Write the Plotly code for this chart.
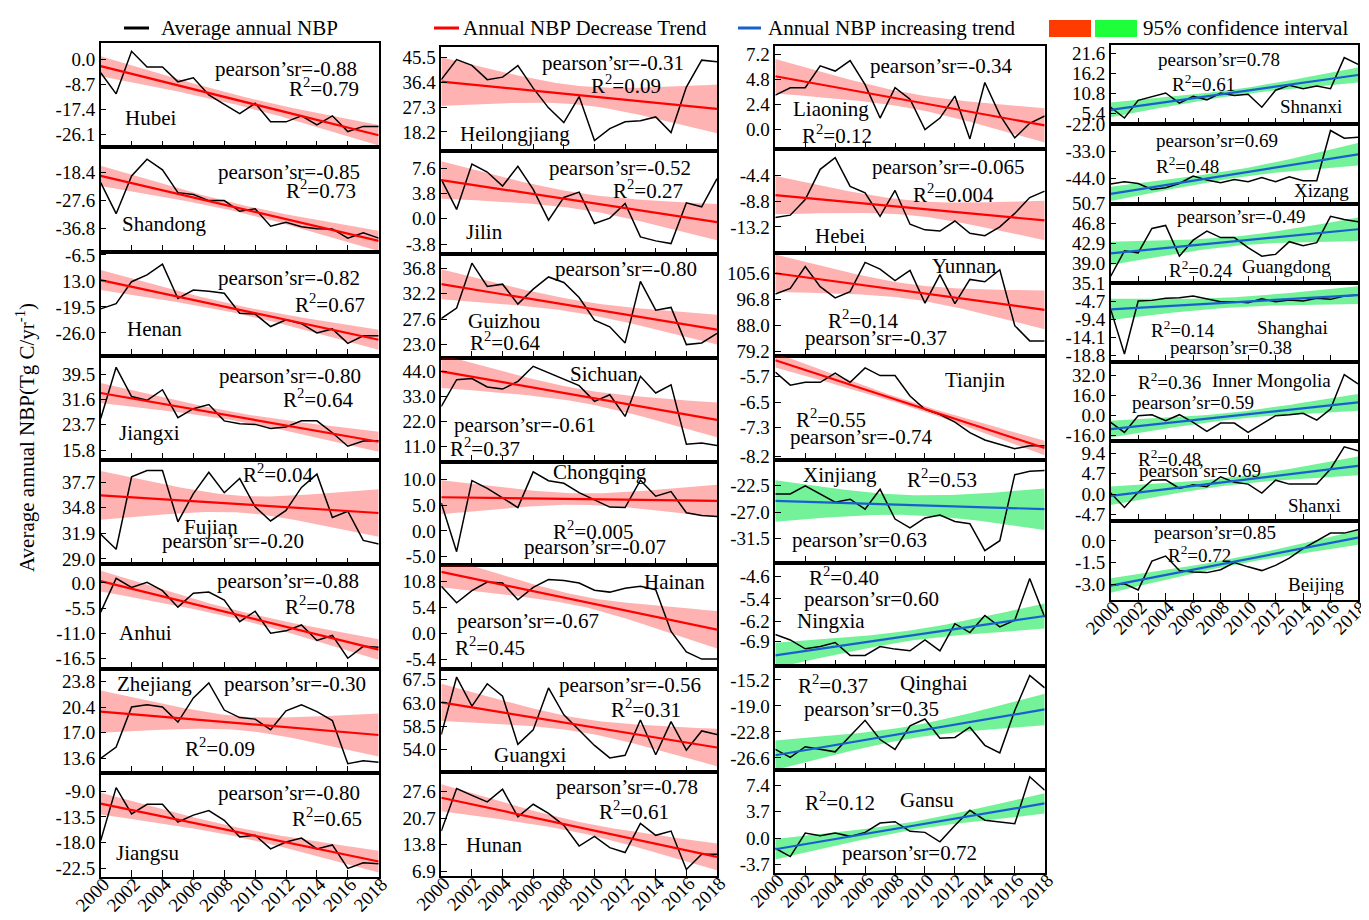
import numpy as np
import plotly.graph_objects as go

W, H = 1369, 920
years = list(range(2000, 2019))
year_ticks = list(range(2000, 2019, 2))

# ---------------- data (Tg C/yr) ----------------
hubei = [-4.6, -12.0, 2.9, -2.6, -2.6, -7.8, -6.4, -12.4, -15.7, -18.9, -15.3, -21.8, -21.8, -19.7, -22.9, -19.7, -25.2, -23.4, -23.4]
shandong = [-21.7, -31.9, -19.5, -14.0, -17.5, -25.0, -25.6, -27.6, -27.6, -31.1, -30.3, -36.0, -34.7, -36.2, -36.8, -36.9, -39.9, -38.2, -39.9]
henan = [-20.0, -18.7, -13.2, -11.5, -8.8, -17.4, -15.3, -15.6, -16.1, -21.1, -21.3, -24.4, -22.7, -23.7, -26.0, -25.0, -28.6, -26.7, -26.7]
jiangxi = [25.6, 41.6, 32.5, 31.3, 34.6, 25.9, 28.7, 30.0, 24.9, 24.0, 23.8, 22.5, 23.0, 24.9, 24.9, 21.2, 17.0, 18.6, 18.7]
fujian = [31.8, 30.1, 38.3, 39.0, 39.0, 33.2, 36.4, 38.8, 36.5, 38.1, 34.9, 33.3, 34.5, 37.1, 38.6, 33.7, 34.4, 31.1, 30.7]
anhui = [-6.4, 1.0, -1.0, 0.15, -1.7, -5.3, -2.25, -2.0, -3.75, -8.5, -6.2, -11.0, -10.5, -9.2, -12.6, -11.5, -16.5, -13.9, -14.1]
zhejiang = [13.6, 15.1, 20.4, 20.7, 20.4, 18.4, 21.6, 23.6, 20.0, 19.0, 18.8, 17.4, 19.9, 20.7, 19.8, 18.6, 12.9, 13.3, 13.1]
jiangsu = [-17.65, -8.4, -13.0, -11.3, -11.3, -14.4, -13.2, -12.4, -14.1, -17.0, -16.7, -19.1, -17.9, -17.2, -19.1, -18.4, -22.5, -21.5, -21.7]
heilongjiang = [37.3, 44.6, 42.5, 37.3, 38.2, 42.4, 34.2, 27.0, 21.6, 31.1, 15.1, 19.4, 21.9, 22.3, 23.7, 18.0, 34.6, 44.4, 43.8]
jilin = [5.9, 1.4, 8.2, 7.0, 4.9, 7.85, 4.4, -0.2, 3.2, 4.0, -0.7, 0.1, 2.3, -2.7, -3.3, -3.7, 2.4, 1.8, 6.0]
guizhou = [27.7, 29.6, 37.7, 33.5, 33.9, 30.3, 33.0, 35.2, 34.2, 31.5, 27.4, 26.2, 23.3, 34.4, 29.2, 29.7, 23.0, 23.3, 25.0]
sichuan = [28.6, 40.3, 40.8, 37.1, 36.2, 39.6, 46.2, 43.3, 40.6, 37.7, 30.8, 33.7, 24.2, 41.8, 34.5, 38.1, 12.0, 12.5, 11.4]
chongqing = [5.4, -4.0, 9.7, 8.2, 6.4, 4.5, 11.4, 9.7, 9.2, 7.4, 6.0, 4.6, 4.5, 9.8, 6.7, 7.6, 3.5, 3.0, 2.8]
hainan = [9.7, 6.3, 8.8, 10.6, 10.4, 6.9, 9.5, 11.1, 10.9, 10.4, 8.9, 8.5, 9.3, 9.7, 9.0, 0.35, -3.9, -5.4, -5.4]
guangxi = [56.9, 68.0, 62.4, 66.7, 64.3, 55.0, 57.8, 65.9, 60.7, 57.8, 54.8, 52.4, 52.9, 59.7, 53.0, 59.4, 53.9, 57.6, 56.9]
hunan = [17.3, 28.4, 26.6, 24.9, 28.2, 21.0, 24.3, 21.9, 18.8, 13.4, 15.9, 13.0, 11.7, 19.3, 16.2, 17.3, 7.3, 11.3, 11.3]
liaoning = [3.3, 4.0, 4.0, 6.1, 5.6, 6.6, 4.3, 1.1, 4.0, 2.9, 0.0, 1.1, 3.2, -0.9, 4.5, 1.4, -0.8, 0.6, 1.3]
hebei = [-11.6, -11.2, -8.55, -3.4, -1.4, -6.3, -7.4, -11.4, -7.0, -12.75, -13.7, -13.9, -12.2, -14.3, -14.7, -13.2, -10.9, -8.2, -7.1]
yunnan = [98.7, 100.6, 108.1, 101.2, 97.4, 99.5, 109.5, 107.2, 103.3, 106.8, 95.6, 105.3, 95.4, 103.7, 102.9, 107.0, 87.9, 82.7, 82.7]
tianjin = [-5.56, -5.97, -5.88, -5.88, -5.59, -5.88, -5.43, -5.67, -5.67, -6.31, -6.73, -6.89, -7.13, -7.46, -7.69, -7.82, -7.96, -7.87, -7.87]
xinjiang = [-23.9, -23.9, -22.5, -23.9, -25.3, -24.8, -26.5, -23.1, -28.2, -29.7, -28.0, -27.5, -28.6, -29.0, -33.6, -31.9, -20.6, -20.0, -19.9]
ningxia = [-6.65, -6.84, -7.15, -7.07, -6.93, -7.38, -7.38, -7.07, -7.16, -7.22, -6.84, -7.22, -6.27, -6.58, -5.98, -6.38, -6.15, -4.69, -6.04]
qinghai = [-25.35, -26.5, -24.95, -25.35, -25.7, -23.4, -21.1, -23.9, -25.35, -21.9, -20.9, -23.7, -23.6, -22.1, -24.75, -25.85, -19.65, -14.55, -16.35]
gansu = [-1.43, -2.6, 0.7, 0.33, 0.7, 0.24, 0.8, 2.1, 2.3, 0.95, 0.8, -0.52, 1.76, 3.9, 2.5, 2.24, 2.0, 8.6, 6.7]
shnanxi = [7.0, 4.1, 8.85, 9.75, 10.85, 8.1, 9.95, 9.0, 10.85, 10.2, 10.5, 7.0, 11.6, 12.95, 12.0, 12.7, 12.0, 20.4, 18.6]
xizang = [-46.1, -45.2, -45.9, -48.3, -47.6, -45.9, -42.9, -44.5, -45.6, -44.3, -45.2, -43.5, -45.2, -43.2, -44.8, -44.8, -24.5, -27.6, -27.2]
guangdong = [36.4, 41.4, 41.0, 45.8, 46.4, 40.35, 43.5, 45.3, 44.0, 44.0, 42.05, 40.35, 40.7, 43.2, 42.4, 43.0, 48.2, 47.55, 47.1]
shanghai = [-6.85, -18.4, -4.7, -4.53, -4.0, -3.85, -3.4, -4.1, -4.87, -4.87, -5.13, -4.1, -4.87, -4.44, -4.7, -4.0, -4.27, -3.4, -3.16]
inner_mongolia = [-5.3, -13.3, 0.0, 0.8, -4.0, 0.8, -5.3, -12.5, -5.9, -5.9, -13.3, -6.7, 0.0, 0.8, 1.9, -3.5, 5.3, 32.8, 25.3]
shanxi = [0.23, -3.1, 0.4, 3.2, 3.3, 1.3, 2.15, 1.7, 4.0, 2.7, 2.3, 0.23, 3.2, 2.3, 2.3, 2.3, 5.8, 10.9, 10.0]
beijing = [-3.09, -2.97, -3.4, -1.4, -1.05, -2.06, -2.15, -2.2, -2.0, -1.5, -1.8, -2.06, -1.7, -1.2, -0.54, 0.0, 0.54, 0.54, 0.77]

regions = ["Hubei", "Shandong", "Henan", "Jiangxi", "Fujian", "Anhui", "Zhejiang", "Jiangsu",
           "Heilongjiang", "Jilin", "Guizhou", "Sichuan", "Chongqing", "Hainan", "Guangxi", "Hunan",
           "Liaoning", "Hebei", "Yunnan", "Tianjin", "Xinjiang", "Ningxia", "Qinghai", "Gansu",
           "Shnanxi", "Xizang", "Guangdong", "Shanghai", "Inner Mongolia", "Shanxi", "Beijing"]
series = [hubei, shandong, henan, jiangxi, fujian, anhui, zhejiang, jiangsu,
          heilongjiang, jilin, guizhou, sichuan, chongqing, hainan, guangxi, hunan,
          liaoning, hebei, yunnan, tianjin, xinjiang, ningxia, qinghai, gansu,
          shnanxi, xizang, guangdong, shanghai, inner_mongolia, shanxi, beijing]

# fitted trend at 2000 and 2018, CI half-widths at 2000 / 2009 / 2018
trend_start = [-2.3, -19.5, -12.8, 33.6, 36.2, 0.4, 19.8, -11.2,
               36.6, 5.8, 33.9, 44.0, 6.5, 12.7, 63.1, 26.0,
               5.1, -7.8, 105.8, -5.19, -25.1, -7.38, -26.2, -1.57,
               6.3, -50.1, 40.9, -6.85, -10.7, -0.4, -3.1]
trend_end = [-26.5, -40.8, -27.7, 18.4, 34.2, -14.6, 16.7, -21.3,
             26.6, -0.5, 25.7, 22.7, 5.8, 0.7, 54.4, 10.6,
             0.4, -12.1, 93.3, -7.94, -26.5, -6.0, -19.5, 4.86,
             15.7, -34.1, 45.65, -3.16, 10.7, 6.5, 0.23]
ci_start = [3.5, 3.3, 2.5, 3.1, 2.76, 2.25, 2.8, 1.9,
            8.9, 2.8, 2.7, 7.3, 3.3, 3.2, 3.6, 3.5,
            1.65, 3.25, 6.4, 0.23, 3.55, 0.44, 2.15, 1.43,
            2.0, 2.9, 2.3, 2.75, 6.7, 2.15, 0.5]
ci_mid = [1.7, 1.3, 1.0, 1.3, 0.95, 0.9, 0.9, 0.8,
          3.4, 1.2, 1.1, 2.9, 1.1, 1.05, 1.3, 1.4,
          0.7, 1.25, 2.5, 0.085, 1.7, 0.18, 0.9, 0.57,
          0.8, 1.6, 0.9, 1.3, 2.7, 0.85, 0.23]
ci_end = [3.6, 3.3, 2.5, 3.1, 2.7, 2.25, 2.85, 1.9,
          8.9, 2.7, 2.7, 7.6, 3.1, 3.9, 3.6, 3.5,
          1.65, 3.35, 6.6, 0.23, 3.55, 0.44, 2.3, 1.43,
          2.0, 4.5, 2.3, 2.3, 6.7, 2.15, 0.5]
increasing = [False] * 20 + [True] * 11
pearson_r = ["-0.88", "-0.85", "-0.82", "-0.80", "-0.20", "-0.88", "-0.30", "-0.80",
             "-0.31", "-0.52", "-0.80", "-0.61", "-0.07", "-0.67", "-0.56", "-0.78",
             "-0.34", "-0.065", "-0.37", "-0.74", "0.63", "0.60", "0.35", "0.72",
             "0.78", "0.69", "-0.49", "0.38", "0.59", "0.69", "0.85"]
r_squared = ["0.79", "0.73", "0.67", "0.64", "0.04", "0.78", "0.09", "0.65",
             "0.09", "0.27", "0.64", "0.37", "0.005", "0.45", "0.31", "0.61",
             "0.12", "0.004", "0.14", "0.55", "0.53", "0.40", "0.37", "0.12",
             "0.61", "0.48", "0.24", "0.14", "0.36", "0.48", "0.72"]

# y-axis ticks
y_ticks = [[0.0, -8.7, -17.4, -26.1], [-18.4, -27.6, -36.8], [-6.5, -13.0, -19.5, -26.0],
           [39.5, 31.6, 23.7, 15.8], [37.7, 34.8, 31.9, 29.0], [0.0, -5.5, -11.0, -16.5],
           [23.8, 20.4, 17.0, 13.6], [-9.0, -13.5, -18.0, -22.5],
           [45.5, 36.4, 27.3, 18.2], [7.6, 3.8, 0.0, -3.8], [36.8, 32.2, 27.6, 23.0],
           [44.0, 33.0, 22.0, 11.0], [10.0, 5.0, 0.0, -5.0], [10.8, 5.4, 0.0, -5.4],
           [67.5, 63.0, 58.5, 54.0], [27.6, 20.7, 13.8, 6.9],
           [7.2, 4.8, 2.4, 0.0], [-4.4, -8.8, -13.2], [105.6, 96.8, 88.0, 79.2],
           [-5.7, -6.5, -7.3, -8.2], [-22.5, -27.0, -31.5], [-4.6, -5.4, -6.2, -6.9],
           [-15.2, -19.0, -22.8, -26.6], [7.4, 3.7, 0.0, -3.7],
           [21.6, 16.2, 10.8, 5.4], [-22.0, -33.0, -44.0], [50.7, 46.8, 42.9, 39.0, 35.1],
           [-4.7, -9.4, -14.1, -18.8], [32.0, 16.0, 0.0, -16.0], [9.4, 4.7, 0.0, -4.7],
           [0.0, -1.5, -3.0]]
y_tick_text_override = {2: ["-6.5", "13.0", "-19.5", "-26.0"]}

# ---------------- layout helpers ----------------
y_ranges = [[-30.7, 5.8], [-44.3, -10.1], [-31.7, -5.66], [12.7, 45.2], [28.4, 40.2], [-18.75, 4.1],
            [11.7, 25.5], [-24.0, -5.8],
            [11.4, 49.2], [-5.3, 10.2], [20.6, 39.3], [4.4, 49.9], [-6.6, 13.4], [-7.4, 14.1],
            [49.6, 69.6], [5.6, 32.6],
            [-1.9, 8.0], [-17.6, 0.0], [77.5, 112.8], [-8.30, -5.06], [-35.7, -18.0], [-7.76, -4.14],
            [-28.3, -13.2], [-4.9, 9.6],
            [2.4, 23.8], [-54.0, -22.0], [35.1, 50.7], [-20.5, 0.0], [-20.5, 42.7], [-6.15, 12.15],
            [-4.1, 1.4]]
# (pearson x,y), (R2 x,y), (name x,y) in panel-domain fractions
label_pos = [
    [(0.667, 0.746), (0.803, 0.571), (0.18, 0.276)],
    [(0.677, 0.758), (0.794, 0.597), (0.23, 0.265)],
    [(0.677, 0.742), (0.824, 0.50), (0.192, 0.258)],
    [(0.68, 0.81), (0.782, 0.587), (0.176, 0.26)],
    [(0.476, 0.219), (0.636, 0.871), (0.396, 0.355)],
    [(0.674, 0.836), (0.788, 0.60), (0.161, 0.338)],
    [(0.70, 0.855), (0.428, 0.242), (0.194, 0.855)],
    [(0.677, 0.808), (0.815, 0.569), (0.17, 0.233)],
    [(0.623, 0.847), (0.671, 0.642), (0.266, 0.163)],
    [(0.647, 0.833), (0.75, 0.625), (0.157, 0.218)],
    [(0.671, 0.859), (0.23, 0.157), (0.23, 0.353)],
    [(0.302, 0.355), (0.16, 0.135), (0.59, 0.848)],
    [(0.556, 0.179), (0.55, 0.336), (0.574, 0.896)],
    [(0.314, 0.459), (0.175, 0.213), (0.846, 0.836)],
    [(0.683, 0.844), (0.744, 0.617), (0.32, 0.169)],
    [(0.675, 0.855), (0.70, 0.629), (0.191, 0.30)],
    [(0.614, 0.806), (0.23, 0.145), (0.205, 0.387)],
    [(0.641, 0.832), (0.663, 0.574), (0.239, 0.161)],
    [(0.375, 0.18), (0.325, 0.351), (0.703, 0.869)],
    [(0.319, 0.22), (0.208, 0.401), (0.743, 0.77)],
    [(0.313, 0.22), (0.619, 0.813), (0.239, 0.852)],
    [(0.356, 0.651), (0.255, 0.873), (0.208, 0.435)],
    [(0.356, 0.59), (0.214, 0.826), (0.589, 0.836)],
    [(0.499, 0.197), (0.239, 0.695), (0.564, 0.705)],
    [(0.438, 0.813), (0.376, 0.517), (0.811, 0.225)],
    [(0.431, 0.798), (0.31, 0.483), (0.852, 0.16)],
    [(0.528, 0.832), (0.367, 0.181), (0.71, 0.21)],
    [(0.488, 0.19), (0.292, 0.422), (0.737, 0.443)],
    [(0.333, 0.494), (0.239, 0.768), (0.65, 0.768)],
    [(0.36, 0.63), (0.239, 0.786), (0.825, 0.189)],
    [(0.42, 0.851), (0.36, 0.583), (0.832, 0.20)],
]

col_x = [(92.7, 370.7), (433.3, 709.0), (767.3, 1036.7), (1102.7, 1350.0)]
col_y = [(35.0, 869.0, 8), (39.0, 868.0, 8), (38.0, 865.0, 8), (37.0, 592.0, 7)]

FONT = "Liberation Serif"
RED = "#ff0000"
BLUE = "#1a5fd0"
RED_BAND = "rgba(255,0,0,0.30)"
GREEN_BAND = "rgba(0,232,70,0.55)"

fig = go.Figure()
layout = dict(width=W, height=H, margin=dict(l=0, r=0, t=0, b=0, pad=0, autoexpand=False),
              paper_bgcolor="white", plot_bgcolor="white", showlegend=False,
              font=dict(family=FONT, color="black"))
annotations = []
shapes = []

idx = 0
for c, (x0, x1) in enumerate(col_x):
    top, bottom, n = col_y[c]
    h = (bottom - top) / n
    for r in range(n):
        i = idx
        k = i + 1
        xa = "x" if k == 1 else f"x{k}"
        ya = "y" if k == 1 else f"y{k}"
        pt = top + r * h
        pb = pt + h
        last = (r == n - 1)

        # confidence band
        xs = np.linspace(2000, 2018, 73)
        t = (xs - 2009) / 9.0
        we = np.where(t < 0, ci_start[i], ci_end[i])
        w = np.sqrt(ci_mid[i] ** 2 + (we ** 2 - ci_mid[i] ** 2) * t ** 2)
        cen = trend_start[i] + (trend_end[i] - trend_start[i]) * (xs - 2000) / 18.0
        fig.add_trace(go.Scatter(
            x=np.concatenate([xs, xs[::-1]]), y=np.concatenate([cen + w, (cen - w)[::-1]]),
            fill="toself", fillcolor=GREEN_BAND if increasing[i] else RED_BAND,
            line=dict(width=0), mode="lines", hoverinfo="skip", xaxis=xa, yaxis=ya))
        # annual NBP
        fig.add_trace(go.Scatter(x=years, y=series[i], mode="lines",
                                 line=dict(color="black", width=1.5),
                                 xaxis=xa, yaxis=ya, name=regions[i]))
        # trend line
        fig.add_trace(go.Scatter(x=[2000, 2018], y=[trend_start[i], trend_end[i]], mode="lines",
                                 line=dict(color=BLUE if increasing[i] else RED, width=2.2),
                                 xaxis=xa, yaxis=ya, hoverinfo="skip"))

        xkey = "xaxis" if k == 1 else f"xaxis{k}"
        ykey = "yaxis" if k == 1 else f"yaxis{k}"
        layout[xkey] = dict(domain=[x0 / W, x1 / W], anchor=ya, range=[2000, 2018],
                            tickvals=year_ticks, ticktext=[str(v) for v in year_ticks],
                            showticklabels=last, tickangle=-45, automargin=False,
                            ticklabelstandoff=-13, ticklabelshift=3,
                            tickfont=dict(family=FONT, size=19, color="black"),
                            ticks="inside", ticklen=7, tickwidth=1.2, tickcolor="black",
                            showline=True, linecolor="black", linewidth=1.5, mirror=True,
                            showgrid=False, zeroline=False)
        ttext = y_tick_text_override.get(i, [f"{v:.1f}" for v in y_ticks[i]])
        layout[ykey] = dict(domain=[1 - pb / H, 1 - pt / H], anchor=xa, range=y_ranges[i],
                            tickvals=y_ticks[i], ticktext=ttext, automargin=False,
                            tickfont=dict(family=FONT, size=19, color="black"),
                            ticks="inside", ticklen=6, tickwidth=1.2, tickcolor="black",
                            showline=True, linecolor="black", linewidth=1.5, mirror=True,
                            showgrid=False, zeroline=False)

        fs = 19 if c == 3 else 21
        (px_, py_), (rx, ry), (nx, ny) = label_pos[i]
        for txt, ax, ay in [(f"pearson\u2019sr={pearson_r[i]}", px_, py_),
                            (f"R<sup>2</sup>={r_squared[i]}", rx, ry),
                            (regions[i], nx, ny)]:
            annotations.append(dict(text=txt, x=ax, y=ay, xref=f"{xa} domain", yref=f"{ya} domain",
                                    xanchor="center", yanchor="middle", showarrow=False,
                                    font=dict(family=FONT, size=fs, color="black")))
        idx += 1


def px(x):
    return x / W


def py(y):
    return 1 - y / H


# y-axis title
annotations.append(dict(text="Average annual NBP(Tg C/yr<sup>-1</sup>)", x=px(17), y=py(430),
                        xref="paper", yref="paper", textangle=-90, showarrow=False,
                        xanchor="center", yanchor="middle",
                        font=dict(family=FONT, size=21, color="black")))

# legend (drawn)
legend_items = [(116, 141, "black", 151, "Average annual NBP"),
                (426, 451, RED, 453, "Annual NBP Decrease Trend"),
                (730, 753, BLUE, 758, "Annual NBP increasing trend")]
for lx0, lx1, col, tx, txt in legend_items:
    shapes.append(dict(type="line", xref="paper", yref="paper", x0=px(lx0), x1=px(lx1),
                       y0=py(20), y1=py(20), line=dict(color=col, width=3)))
    annotations.append(dict(text=txt, x=px(tx), y=py(20), xref="paper", yref="paper",
                            xanchor="left", yanchor="middle", showarrow=False,
                            font=dict(family=FONT, size=21, color="black")))
shapes.append(dict(type="rect", xref="paper", yref="paper", x0=px(1041), x1=px(1083),
                   y0=py(29), y1=py(12), fillcolor="#ff3c00", line=dict(width=0)))
shapes.append(dict(type="rect", xref="paper", yref="paper", x0=px(1087), x1=px(1129),
                   y0=py(29), y1=py(12), fillcolor="#1eff3c", line=dict(width=0)))
annotations.append(dict(text="95% confidence interval", x=px(1133), y=py(20), xref="paper",
                        yref="paper", xanchor="left", yanchor="middle", showarrow=False,
                        font=dict(family=FONT, size=21, color="black")))

layout["annotations"] = annotations
layout["shapes"] = shapes
fig.update_layout(**layout)
fig.write_html("out.html")
